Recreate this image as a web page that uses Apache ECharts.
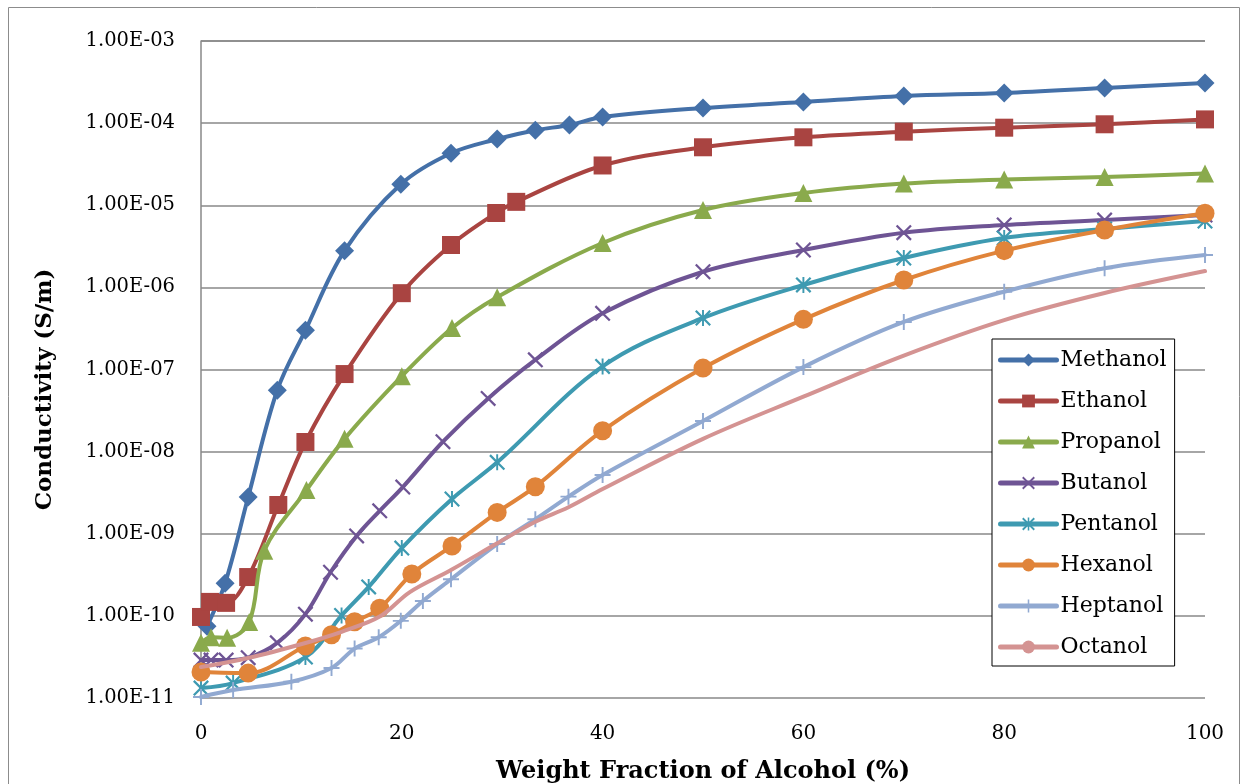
<!DOCTYPE html>
<html>
<head>
<meta charset="utf-8">
<script src="https://cdn.jsdelivr.net/npm/echarts/dist/echarts.min.js"></script>
<style>
  html, body { margin: 0; padding: 0; background: #ffffff; }
  #chart { width: 1246px; height: 784px; }
</style>
</head>
<body>
<div id="chart"></div>
<script>
// Conductivity of alcohol / water mixtures, [weight fraction %, S/m]
const methanol = [[0.6,7.5e-11],[2.4,2.5e-10],[4.7,2.8e-9],[7.6,5.6e-8],[10.4,3.0e-7],[14.3,2.8e-6],[19.9,1.8e-5],[24.9,4.3e-5],[29.5,6.4e-5],[33.3,8.2e-5],[36.7,9.5e-5],[40,1.19e-4],[50,1.53e-4],[60,1.81e-4],[70,2.14e-4],[80,2.33e-4],[90,2.68e-4],[100,3.08e-4]];
const ethanol = [[0,9.7e-11],[0.9,1.48e-10],[2.5,1.44e-10],[4.7,2.97e-10],[7.7,2.24e-9],[10.4,1.31e-8],[14.3,8.8e-8],[20,8.5e-7],[24.9,3.28e-6],[29.4,8.05e-6],[31.4,1.1e-5],[40,3.05e-5],[50,5.08e-5],[60,6.72e-5],[70,7.87e-5],[80,8.8e-5],[90,9.68e-5],[100,1.11e-4]];
const propanol = [[0,4.7e-11],[1,5.5e-11],[2.6,5.4e-11],[4.8,8.4e-11],[6.3,6.2e-10],[10.5,3.4e-9],[14.3,1.43e-8],[20,8.3e-8],[25,3.2e-7],[29.5,7.6e-7],[40,3.47e-6],[50,8.75e-6],[60,1.41e-5],[70,1.84e-5],[80,2.06e-5],[90,2.21e-5],[100,2.44e-5]];
const butanol = [[0,2.9e-11],[1,2.9e-11],[2.5,2.9e-11],[4.7,3.1e-11],[7.6,4.7e-11],[10.4,1.05e-10],[12.9,3.4e-10],[15.5,9.4e-10],[17.8,1.9e-9],[20.1,3.7e-9],[24.1,1.32e-8],[28.6,4.45e-8],[33.3,1.31e-7],[40,4.83e-7],[50,1.55e-6],[60,2.85e-6],[70,4.63e-6],[80,5.75e-6],[90,6.6e-6],[100,7.6e-6]];
const pentanol = [[0,1.32e-11],[3.2,1.52e-11],[10.4,3.15e-11],[14,1.01e-10],[16.7,2.25e-10],[20,6.7e-10],[25,2.65e-9],[29.5,7.4e-9],[40,1.09e-7],[50,4.24e-7],[60,1.07e-6],[70,2.28e-6],[80,3.99e-6],[90,5.14e-6],[100,6.43e-6]];
const hexanol = [[0,2.07e-11],[4.7,2.01e-11],[10.4,4.3e-11],[13,5.9e-11],[15.3,8.5e-11],[17.8,1.24e-10],[21,3.24e-10],[25,7.1e-10],[29.5,1.82e-9],[33.3,3.74e-9],[40,1.8e-8],[50,1.04e-7],[60,4.08e-7],[70,1.23e-6],[80,2.8e-6],[90,5.0e-6],[100,7.98e-6]];
const heptanol = [[0,1.03e-11],[3.2,1.25e-11],[9,1.58e-11],[13,2.32e-11],[15.3,4.0e-11],[17.7,5.5e-11],[19.9,8.7e-11],[22.1,1.52e-10],[24.9,2.79e-10],[29.5,7.5e-10],[33.3,1.5e-9],[36.6,2.83e-9],[40,5.2e-9],[50,2.36e-8],[60,1.07e-7],[70,3.79e-7],[80,8.85e-7],[90,1.71e-6],[100,2.48e-6]];
const octanol = [[0,2.38e-11],[4.7,3.07e-11],[10.4,4.68e-11],[14,6.4e-11],[17.8,9.8e-11],[20.8,1.95e-10],[24.9,3.62e-10],[29.5,7.65e-10],[33.3,1.4e-9],[36.6,2.1e-9],[40,3.5e-9],[50,1.43e-8],[60,4.67e-8],[70,1.48e-7],[80,4.0e-7],[90,8.55e-7],[100,1.58e-6]];

const seriesNames = ['Methanol','Ethanol','Propanol','Butanol','Pentanol','Hexanol','Heptanol','Octanol'];
const seriesData = [methanol, ethanol, propanol, butanol, pentanol, hexanol, heptanol, octanol];
const yTickLabels = ['1.00E-11','1.00E-10','1.00E-09','1.00E-08','1.00E-07','1.00E-06','1.00E-05','1.00E-04','1.00E-03'];

// Appearance of each series
const colors = ['#4470A8','#A94441','#8AAA4C','#6E5494','#3E9AB1','#E0843A','#91A9D1','#D49392'];
const CROSS = 'path://M0,1L1,0L10,9L9,10ZM9,0L10,1L1,10L0,9Z';
const STAR = 'path://M0,1L1,0L10,9L9,10ZM9,0L10,1L1,10L0,9ZM4.4,0L5.6,0L5.6,10L4.4,10Z';
const PLUS = 'path://M4.4,0L5.6,0L5.6,10L4.4,10ZM0,4.4L10,4.4L10,5.6L0,5.6Z';
const symbols = ['diamond','rect','triangle',CROSS,STAR,'circle',PLUS,'none'];
const symbolSizes = [19,18,18,16,16,19,16,0];

const FONT = 'DejaVu Serif';

const chart = echarts.init(document.getElementById('chart'), null, { renderer: 'canvas' });

const series = seriesNames.map((name, i) => ({
  name: name,
  type: 'line',
  data: seriesData[i],
  smooth: 0.35,
  symbol: symbols[i],
  symbolSize: symbolSizes[i],
  showSymbol: symbols[i] !== 'none',
  color: colors[i],
  lineStyle: { width: 4, color: colors[i], cap: 'round', join: 'round' },
  itemStyle: { color: colors[i], borderWidth: 0 },
  emphasis: { disabled: true },
  animation: false,
  z: 2 + i
}));

chart.setOption({
  animation: false,
  backgroundColor: '#ffffff',
  graphic: [{
    type: 'rect',
    shape: { x: 8.5, y: 7.5, width: 1231, height: 800 },
    style: { fill: 'none', stroke: '#8c8c8c', lineWidth: 1 },
    z: -1
  }],
  grid: { left: 201, right: 41, top: 41, bottom: 86, containLabel: false, outerBoundsMode: 'none' },
  legend: {
    orient: 'vertical',
    left: 992,
    top: 339,
    data: seriesNames,
    itemWidth: 56,
    itemHeight: 16,
    itemGap: 19,
    padding: [10, 8, 8, 6],
    borderColor: '#000000',
    borderWidth: 1,
    backgroundColor: '#ffffff',
    lineStyle: { width: 5, cap: 'round' },
    textStyle: { fontFamily: FONT, fontSize: 22, color: '#000000', padding: [0, 0, 0, -1] }
  },
  xAxis: {
    type: 'value',
    min: 0,
    max: 100,
    interval: 20,
    name: 'Weight Fraction of Alcohol (%)',
    nameLocation: 'middle',
    nameGap: 62,
    nameTextStyle: { fontFamily: FONT, fontSize: 24, fontWeight: 'bold', color: '#000000' },
    axisLine: { show: false },
    axisTick: { show: false },
    splitLine: { show: false },
    axisLabel: { fontFamily: FONT, fontSize: 20, color: '#000000', margin: 26 }
  },
  yAxis: {
    type: 'log',
    logBase: 10,
    min: 1e-11,
    max: 1e-3,
    interval: 1,
    name: 'Conductivity (S/m)',
    nameLocation: 'middle',
    nameGap: 144,
    nameRotate: 90,
    nameTextStyle: {
      fontFamily: FONT, fontSize: 23, fontWeight: 'bold', color: '#000000',
      padding: [0, 40, 0, 0]
    },
    axisLine: { show: true, lineStyle: { color: '#888888', width: 1.5 } },
    axisTick: { show: false },
    splitLine: { show: true, lineStyle: { color: '#888888', width: 1.5 } },
    axisLabel: {
      fontFamily: FONT,
      fontSize: 19.5,
      color: '#000000',
      margin: 26,
      formatter: v => yTickLabels[Math.round(Math.log10(v)) + 11]
    }
  },
  series: series
});
</script>
</body>
</html>
